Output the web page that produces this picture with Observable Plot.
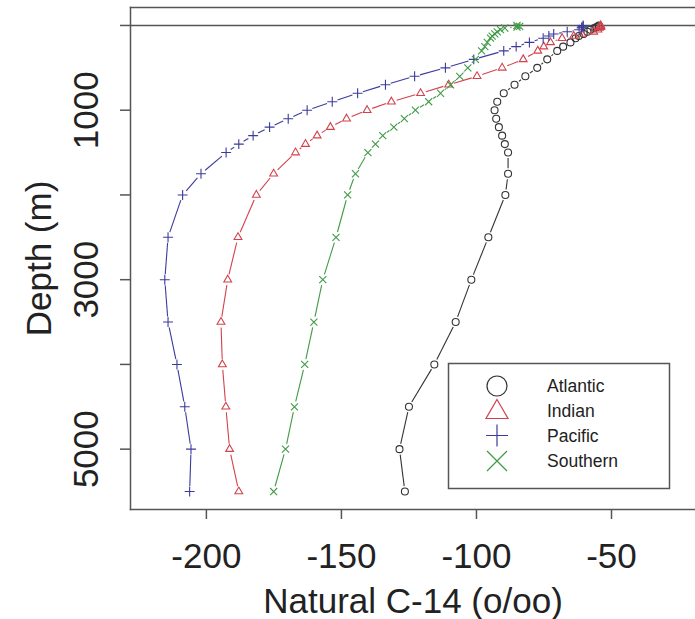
<!DOCTYPE html>
<html><head><meta charset="utf-8">
<script src="https://cdn.jsdelivr.net/npm/d3@7"></script>
<script src="https://cdn.jsdelivr.net/npm/@observablehq/plot@0.6"></script>
<style>
body{margin:0;background:#fff;}
#chart{position:relative;width:695px;height:619px;overflow:hidden;}
</style>
</head><body><div id="chart"></div>
<script>
// Standard depths (m)
const depths = [0,10,20,30,50,75,100,125,150,200,250,300,400,500,600,700,800,900,1000,1100,1200,1300,1400,1500,1750,2000,2500,3000,3500,4000,4500,5000,5500];
// Natural C-14 (o/oo) per ocean basin
const atlantic = [-54.7,-54.8,-55.6,-56.3,-57.8,-58.9,-60.3,-62.1,-63.3,-65.2,-67.9,-70.1,-73.8,-77.5,-81.9,-85.9,-89.9,-92.3,-93.3,-92.7,-91.7,-90.5,-89.5,-88.3,-88.3,-89.3,-95.6,-101.9,-107.7,-115.6,-125.0,-128.5,-126.5];
const indian   = [-54.0,-54.0,-54.0,-54.5,-55.0,-56.6,-60.9,-64.0,-68.3,-72.6,-75.1,-77.3,-82.7,-90.5,-99.8,-110.3,-120.7,-131.5,-140.5,-148.1,-154.1,-159.0,-163.3,-167.0,-175.1,-181.5,-188.3,-192.1,-194.6,-194.1,-192.8,-191.4,-188.0];
const pacific  = [-60.5,-60.5,-61.0,-61.0,-62.0,-66.4,-71.4,-73.2,-75.3,-80.4,-85.3,-89.9,-101.0,-111.5,-122.9,-133.7,-144.0,-153.4,-162.7,-169.7,-176.6,-182.7,-188.0,-192.7,-202.0,-208.8,-214.2,-215.4,-214.2,-210.9,-208.0,-205.7,-206.2];
const southern = [-85.0,-84.0,-85.0,-89.5,-91.1,-92.3,-93.2,-94.2,-94.8,-96.0,-96.9,-98.1,-100.4,-103.2,-106.2,-109.6,-113.3,-117.7,-122.6,-126.7,-130.6,-134.7,-137.4,-140.2,-144.8,-147.7,-152.0,-156.9,-160.2,-163.6,-167.4,-170.7,-175.1];

const seriesNames = ["Atlantic","Indian","Pacific","Southern"];
const seriesValues = [atlantic, indian, pacific, southern];
const seriesColors = ["#333333","#d2424c","#3b3b9c","#3f9a45"];
const seriesSymbols = ["circle","triangle","plus","times"];
const xTicks = [-200,-150,-100,-50];
const yTicks = [0,1000,2000,3000,4000,5000];
const yTickLabels = [1000,3000,5000];
const refLine = [0];

const axisColor = "#555";
const textColor = "#222";
const font = "'Liberation Sans', Arial, Helvetica, sans-serif";

const common = {
  width: 695, height: 619,
  marginLeft: 130, marginRight: 0, marginTop: 7, marginBottom: 110,
  x: {domain: [-228.1, -18.9]},
  y: {domain: [-212, 5712], reverse: true},
  style: {fontFamily: font, background: "white", color: textColor}
};

// build rows
const rows = [];
seriesNames.forEach((s, k) => depths.forEach((d, i) => rows.push({series: s, depth: d, c14: seriesValues[k][i]})));

// base plot to obtain scales
const base = Plot.plot({...common, marks: [Plot.frame()]});
const sx = base.scale("x"), sy = base.scale("y");

// type="b" style segments: gaps around points
const gap = 5.5;
const segs = [];
seriesNames.forEach((s, k) => {
  const v = seriesValues[k];
  for (let i = 0; i < depths.length - 1; i++) {
    const px1 = sx.apply(v[i]), py1 = sy.apply(depths[i]);
    const px2 = sx.apply(v[i+1]), py2 = sy.apply(depths[i+1]);
    const dx = px2 - px1, dy = py2 - py1, L = Math.hypot(dx, dy);
    if (L <= 2 * gap + 0.5) continue;
    const ux = dx / L, uy = dy / L;
    segs.push({
      series: s,
      x1: sx.invert(px1 + ux * gap), y1: sy.invert(py1 + uy * gap),
      x2: sx.invert(px2 - ux * gap), y2: sy.invert(py2 - uy * gap)
    });
  }
});

const dotR = {circle: 3.5, triangle: 2.9, plus: 3.3, times: 3.3};

const marks = [
  Plot.frame({anchor: "top", stroke: axisColor, strokeWidth: 1.5}),
  Plot.frame({anchor: "left", stroke: axisColor, strokeWidth: 1.5}),
  Plot.frame({anchor: "bottom", stroke: axisColor, strokeWidth: 1.5}),
  Plot.ruleY(refLine, {stroke: axisColor, strokeWidth: 1.5}),
  Plot.axisY({ticks: yTicks, tickSize: 10, tickFormat: () => "", label: null, stroke: axisColor, strokeWidth: 1.5}),
  Plot.axisX({ticks: xTicks, tickSize: 10, tickPadding: 24, fontSize: 35, label: null, tickFormat: d => String(d), stroke: axisColor, strokeWidth: 1.5, fill: textColor}),
  Plot.text(yTickLabels, {y: d => d, text: d => String(d), frameAnchor: "left", dx: -33, rotate: -90, lineAnchor: "bottom", textAnchor: "middle", fontSize: 35, fill: textColor}),
  Plot.text(["Depth (m)"], {frameAnchor: "left", dx: -80, rotate: -90, lineAnchor: "bottom", textAnchor: "middle", fontSize: 35, fill: textColor}),
  Plot.text(["Natural C-14 (o/oo)"], {frameAnchor: "bottom", dy: 103, lineAnchor: "bottom", textAnchor: "middle", fontSize: 35, fill: textColor})
];
seriesNames.forEach((s, k) => {
  marks.push(Plot.link(segs.filter(d => d.series === s), {x1: "x1", y1: "y1", x2: "x2", y2: "y2", stroke: seriesColors[k], strokeWidth: 1.1}));
});
seriesNames.forEach((s, k) => {
  marks.push(Plot.dot(rows.filter(d => d.series === s), {x: "c14", y: "depth", symbol: seriesSymbols[k], r: dotR[seriesSymbols[k]], stroke: seriesColors[k], strokeWidth: 1.1, fill: "none"}));
});

const chart = Plot.plot({...common, marks});
document.getElementById("chart").appendChild(chart);

// legend box (inside plot area, lower right)
const svg = d3.select(chart);
const lg = svg.append("g").attr("font-family", font).attr("text-anchor", "start");
lg.append("rect").attr("x", 448.5).attr("y", 363.5).attr("width", 221).attr("height", 125)
  .attr("fill", "white").attr("stroke", axisColor).attr("stroke-width", 1.5);
const rowY = [386, 410.5, 435.5, 461];
seriesNames.forEach((s, k) => {
  const cx = 497, cy = rowY[k], col = seriesColors[k];
  const g = lg.append("g").attr("stroke", col).attr("fill", "none").attr("stroke-width", 1.2);
  if (seriesSymbols[k] === "circle") g.append("circle").attr("cx", cx).attr("cy", cy).attr("r", 10);
  else if (seriesSymbols[k] === "triangle") g.append("path").attr("d", `M${cx},${cy-11}L${cx+11},${cy+8}L${cx-11},${cy+8}Z`);
  else if (seriesSymbols[k] === "plus") g.append("path").attr("d", `M${cx-11},${cy}H${cx+11}M${cx},${cy-11}V${cy+11}`);
  else g.append("path").attr("d", `M${cx-10},${cy-10}L${cx+10},${cy+10}M${cx-10},${cy+10}L${cx+10},${cy-10}`);
  lg.append("text").attr("x", 547).attr("y", cy).attr("dy", "0.35em").attr("font-size", 17.5).attr("fill", textColor).attr("text-anchor", "start").text(s);
});
</script>
</body></html>
